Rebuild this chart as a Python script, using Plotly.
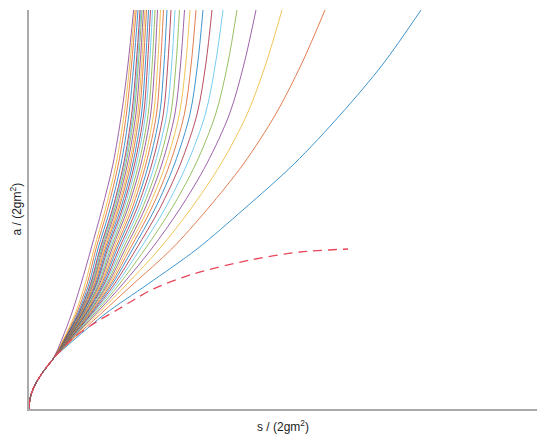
import plotly.graph_objects as go

# shared start of every curve (a-levels and s-values)
A_COMMON = [0.0, 0.05, 0.12, 0.22, 0.35, 0.5]
S_COMMON = [0.0, 0.003, 0.014, 0.05, 0.125, 0.24]

# a-levels where the curves fan out
A_FAN = [0.7, 0.95, 1.25, 1.6, 2.0, 2.45, 2.95, 3.45, 3.99]

# s-values of each curve at the A_FAN levels (rightmost curve first)
S_FAN = [
    [0.46, 0.76, 1.19, 1.68, 2.15, 2.65, 3.12, 3.54, 3.92],
    [0.441, 0.716, 1.042, 1.426, 1.785, 2.144, 2.468, 2.725, 2.96],
    [0.431, 0.686, 0.980, 1.303, 1.617, 1.919, 2.182, 2.368, 2.53],
    [0.424, 0.666, 0.938, 1.224, 1.508, 1.776, 2.005, 2.150, 2.27],
    [0.418, 0.650, 0.904, 1.161, 1.424, 1.667, 1.867, 1.987, 2.08],
    [0.413, 0.636, 0.877, 1.111, 1.358, 1.581, 1.764, 1.864, 1.94],
    [0.409, 0.625, 0.855, 1.072, 1.305, 1.514, 1.681, 1.768, 1.83],
    [0.406, 0.615, 0.834, 1.037, 1.259, 1.455, 1.610, 1.686, 1.74],
    [0.403, 0.607, 0.818, 1.009, 1.222, 1.408, 1.554, 1.622, 1.67],
    [0.400, 0.599, 0.803, 0.984, 1.189, 1.367, 1.504, 1.567, 1.61],
    [0.397, 0.592, 0.789, 0.961, 1.158, 1.329, 1.459, 1.516, 1.555],
    [0.395, 0.585, 0.776, 0.939, 1.130, 1.294, 1.418, 1.470, 1.505],
    [0.392, 0.578, 0.763, 0.918, 1.102, 1.259, 1.378, 1.427, 1.46],
    [0.390, 0.571, 0.751, 0.899, 1.077, 1.229, 1.343, 1.388, 1.42],
    [0.387, 0.565, 0.738, 0.879, 1.051, 1.197, 1.307, 1.350, 1.38],
    [0.385, 0.559, 0.726, 0.862, 1.029, 1.169, 1.275, 1.315, 1.345],
    [0.383, 0.553, 0.716, 0.845, 1.008, 1.145, 1.246, 1.287, 1.315],
    [0.381, 0.546, 0.705, 0.829, 0.986, 1.120, 1.217, 1.257, 1.285],
    [0.378, 0.541, 0.695, 0.814, 0.968, 1.097, 1.192, 1.232, 1.26],
    [0.376, 0.535, 0.684, 0.800, 0.948, 1.074, 1.166, 1.206, 1.235],
    [0.374, 0.530, 0.675, 0.786, 0.933, 1.056, 1.147, 1.185, 1.215],
    [0.372, 0.525, 0.666, 0.773, 0.916, 1.037, 1.125, 1.164, 1.195],
    [0.370, 0.519, 0.656, 0.760, 0.898, 1.018, 1.103, 1.143, 1.175],
    [0.368, 0.514, 0.647, 0.749, 0.885, 1.002, 1.087, 1.127, 1.16],
    [0.366, 0.509, 0.639, 0.737, 0.870, 0.985, 1.069, 1.111, 1.145],
    [0.364, 0.503, 0.629, 0.726, 0.856, 0.969, 1.051, 1.094, 1.13],
    [0.362, 0.499, 0.622, 0.717, 0.845, 0.957, 1.039, 1.083, 1.12],
    [0.361, 0.495, 0.615, 0.709, 0.835, 0.946, 1.027, 1.072, 1.11],
    [0.357, 0.485, 0.599, 0.689, 0.811, 0.920, 1.000, 1.048, 1.09],
    [0.352, 0.473, 0.581, 0.669, 0.786, 0.894, 0.974, 1.026, 1.072],
    [0.346, 0.460, 0.561, 0.650, 0.764, 0.871, 0.952, 1.008, 1.058],
    [0.330, 0.425, 0.520, 0.620, 0.730, 0.840, 0.925, 0.990, 1.046],
]

# dashed limiting curve
DASH_S = [0.0, 0.003, 0.014, 0.05, 0.125, 0.24, 0.44, 0.69, 0.88, 1.08, 1.24, 1.64, 2.21, 2.71, 3.19]
DASH_A = [0.0, 0.05, 0.12, 0.22, 0.35, 0.5, 0.71, 0.88, 0.99, 1.11, 1.2, 1.35, 1.49, 1.57, 1.60]

COLORS = ["#0072BD", "#D95319", "#EDB120", "#7E2F8E", "#77AC30", "#4DBEEE", "#A2142F"]

fig = go.Figure()
for i, sv in enumerate(S_FAN):
    fig.add_trace(go.Scatter(
        x=S_COMMON + sv, y=A_COMMON + A_FAN, mode="lines",
        line=dict(color=COLORS[i % len(COLORS)], width=1, shape="spline", smoothing=0.9),
        opacity=0.75, showlegend=False, hoverinfo="skip"))

fig.add_trace(go.Scatter(
    x=DASH_S, y=DASH_A, mode="lines",
    line=dict(color="rgb(232,70,90)", width=1.3, dash="9px,6px", shape="spline", smoothing=0.8),
    showlegend=False, hoverinfo="skip"))

axis_common = dict(showgrid=False, zeroline=False, showticklabels=False, ticks="",
                   showline=True, linecolor="#aaaaaa", linewidth=1.5, automargin=False)
# the page body adds an 8px offset, so the figure is sized to fill the rest of the window
fig.update_layout(
    width=542, height=433,
    margin=dict(l=21, r=13, t=2, b=32),
    paper_bgcolor="white", plot_bgcolor="white",
    font=dict(family="Liberation Sans, Arial, sans-serif", size=12, color="#222"),
    xaxis=dict(range=[0, 5.08], **axis_common),
    yaxis=dict(range=[0, 3.99], **axis_common),
    annotations=[
        dict(text="s / (2gm<sup>2</sup>)", xref="paper", yref="paper", x=0.5, y=0,
             xanchor="center", yanchor="top", yshift=-7, showarrow=False,
             font=dict(size=12, color="#222")),
        dict(text="a / (2gm<sup>2</sup>)", xref="paper", yref="paper", x=0, y=0.5,
             xanchor="right", yanchor="middle", xshift=-4, textangle=-90, showarrow=False,
             font=dict(size=12, color="#222")),
    ],
)
fig.write_html("out.html")
